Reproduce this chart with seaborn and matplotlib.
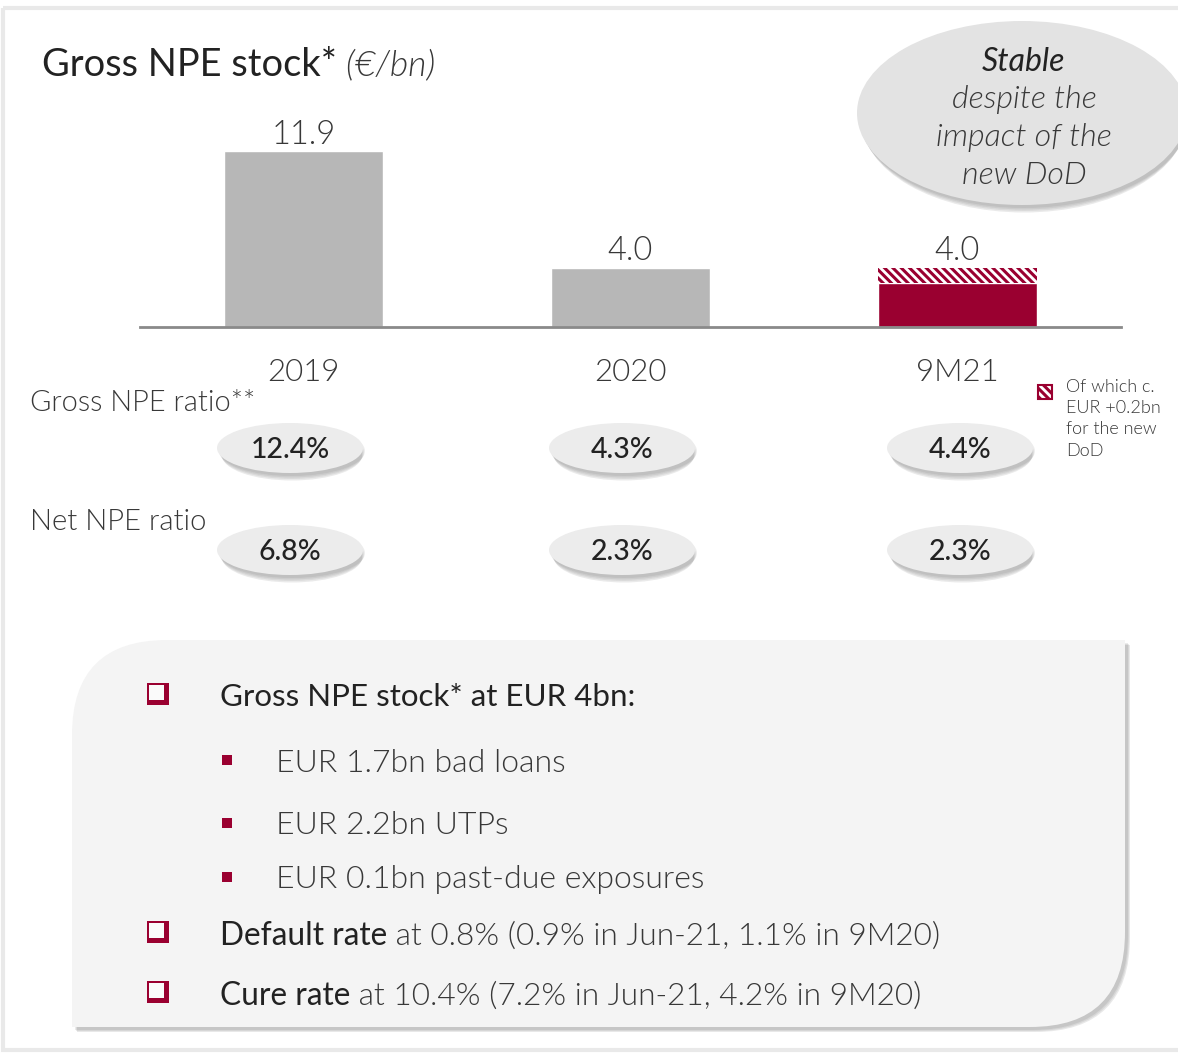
import os
import numpy as np
import pandas as pd
import matplotlib
matplotlib.use('Agg')
import matplotlib.pyplot as plt
import seaborn as sns
from matplotlib import font_manager
from matplotlib.font_manager import FontProperties
from matplotlib.patches import Ellipse, Rectangle, PathPatch
from matplotlib.path import Path

# ── Data ──────────────────────────────────────────────────────────────────────
periods = ['2019', '2020', '9M21']
npe_total = [11.9, 4.0, 4.0]
npe_solid = [11.9, 4.0, 2.95]       # part drawn solid
npe_dod = [0.0, 0.0, 1.05]          # hatched part (new DoD), as drawn
gross_ratio = ['12.4%', '4.3%', '4.4%']
net_ratio = ['6.8%', '2.3%', '2.3%']
legend_text = 'Of which c.\nEUR +0.2bn\nfor the new\nDoD'
callout_lines = ['Stable', 'despite the', 'impact of the', 'new DoD']
bullets = [
    ('box', 'Gross NPE stock* at EUR 4bn:', ''),
    ('dot', '', 'EUR 1.7bn bad loans'),
    ('dot', '', 'EUR 2.2bn UTPs'),
    ('dot', '', 'EUR 0.1bn past-due exposures'),
    ('box', 'Default rate', ' at 0.8% (0.9% in Jun-21, 1.1% in 9M20)'),
    ('box', 'Cure rate', ' at 10.4% (7.2% in Jun-21, 4.2% in 9M20)'),
]

# ── Style ─────────────────────────────────────────────────────────────────────
sns.set_style('white')
plt.rcParams['font.family'] = ['Lato', 'DejaVu Sans']
plt.rcParams['hatch.linewidth'] = 2.2

CRIMSON = '#9a0030'
BAR_GREY = '#b7b7b7'
DARK = '#222222'
MID = '#383838'


# ── Light font files (Lato Light / Light Italic) ─────────────────────────────
def find_font(base):
    for f in font_manager.fontManager.ttflist:
        if os.path.splitext(os.path.basename(f.fname))[0].lower() == base.lower():
            return f.fname
    return None


LIGHT_FILE = find_font('Lato-Light')
LIGHT_IT_FILE = find_font('Lato-LightItalic')


def light_fp(size, italic=False):
    fn = LIGHT_IT_FILE if italic else LIGHT_FILE
    if fn:
        return FontProperties(fname=fn, size=size)
    return FontProperties(family='Lato', weight='light', style='italic' if italic else 'normal', size=size)


W, H = 1178, 1055
fig = plt.figure(figsize=(W / 100, H / 100), dpi=100)
fig.patch.set_facecolor('white')

# overlay in pixel coordinates for decorations and text
ov = fig.add_axes([0, 0, 1, 1], zorder=0)
ov.set_xlim(0, W)
ov.set_ylim(H, 0)
ov.axis('off')

# outer frame
ov.add_patch(Rectangle((3, 8), W + 20, 1042, fill=False, ec='#e9e9e9', lw=3))


def shadow_ellipse(cx, cy, w, h, face, z=1):
    for i, a in enumerate([0.10, 0.10, 0.10, 0.12]):
        ov.add_patch(Ellipse((cx + 2, cy + 3 + i * 1.5), w - i * 2, h, fc='#555555',
                             ec='none', alpha=a, zorder=z))
    ov.add_patch(Ellipse((cx, cy), w, h, fc=face, ec='none', zorder=z + 0.1))


def light_text(x, y, s, size, italic=False, **kw):
    kw.setdefault('color', MID)
    return ov.text(x, y, s, fontproperties=light_fp(size, italic), **kw)


# ── Title ─────────────────────────────────────────────────────────────────────
t = ov.text(42, 62, 'Gross NPE stock*', fontsize=27.4, color=DARK, va='center_baseline')
ov.annotate(' (€/bn)', xy=(1, 62), xycoords=(t, 'data'), color=MID,
            fontproperties=light_fp(25.6, True), va='center_baseline')

# ── Callout ───────────────────────────────────────────────────────────────────
shadow_ellipse(1022, 113, 330, 184, '#e3e3e3')
for i, line in enumerate(callout_lines):
    if i == 0:
        ov.text(1024, 62, line, fontsize=23, style='italic', color=DARK,
                ha='center', va='center', zorder=3)
    else:
        light_text(1024, 62 + i * 38, line, 23.2, italic=True,
                   ha='center', va='center', zorder=3)

# ── Bars ──────────────────────────────────────────────────────────────────────
ax = fig.add_axes([140 / W, 1 - 327 / H, 981 / W, 227 / H], zorder=2)
ax.patch.set_alpha(0)
df = pd.DataFrame({'period': periods, 'solid': npe_solid, 'dod': npe_dod, 'total': npe_total})
sns.barplot(data=df, x='period', y='solid', hue='period', palette=[BAR_GREY, BAR_GREY, CRIMSON],
            legend=False, width=0.486, saturation=1, ax=ax)
ax.bar(np.arange(len(periods)), df['dod'], bottom=df['solid'], width=0.486,
       facecolor='white', edgecolor=CRIMSON, hatch='\\\\\\\\', linewidth=0)
for i, v in enumerate(npe_total):
    ax.annotate(f'{v:.1f}', (i, v), xytext=(0, 1), textcoords='offset points',
                ha='center', va='bottom', fontproperties=light_fp(23.5), color=MID)
ax.set_xlim(-0.5, 2.5)
ax.set_ylim(0, 227 / 14.79)
ax.set_xlabel('')
ax.set_ylabel('')
ax.set_yticks([])
ax.tick_params(axis='x', length=0, pad=22, labelcolor=MID)
for lab in ax.get_xticklabels():
    lab.set_fontproperties(light_fp(22.5))
for s in ['top', 'left', 'right']:
    ax.spines[s].set_visible(False)
ax.spines['bottom'].set_color('#8a8a8a')
ax.spines['bottom'].set_linewidth(2)

# legend for hatched part
ov.add_patch(Rectangle((1038, 385), 14, 14, fc='white', ec=CRIMSON, hatch='\\\\\\\\', lw=1.5, zorder=3))
light_text(1066, 379, legend_text, 13, va='top', ha='left', linespacing=1.4)

# ── Ratio pills ───────────────────────────────────────────────────────────────
light_text(30, 403, 'Gross NPE ratio**', 20.9, va='center')
light_text(30, 522, 'Net NPE ratio', 21.1, va='center')
pill_x = [290, 622, 960]
for row_y, vals in [(448, gross_ratio), (550, net_ratio)]:
    for x, v in zip(pill_x, vals):
        shadow_ellipse(x, row_y, 146, 50, '#ececec')
        ov.text(x, row_y + 2, v, fontsize=20.5, fontweight='medium', color=DARK,
                ha='center', va='center', zorder=3)

# ── Bottom panel ──────────────────────────────────────────────────────────────
def panel_path(x0, y0, x1, y1, r):
    verts = [(x0 + r, y0), (x1, y0), (x1, y1 - r), (x1, y1), (x1 - r, y1),
             (x0, y1), (x0, y0 + r), (x0, y0), (x0 + r, y0)]
    codes = [Path.MOVETO, Path.LINETO, Path.LINETO, Path.CURVE3, Path.CURVE3,
             Path.LINETO, Path.LINETO, Path.CURVE3, Path.CURVE3]
    return Path(verts, codes)


for i, a in enumerate([0.10, 0.10, 0.12]):
    ov.add_patch(PathPatch(panel_path(72 + 3 + i, 640 + 3 + i, 1125 + 3 + i, 1027 + 3 + i, 95),
                           fc='#444444', ec='none', alpha=a, zorder=1))
ov.add_patch(PathPatch(panel_path(72, 640, 1125, 1027, 95), fc='#f4f4f4', ec='none', zorder=1.2))

line_y = [695, 760, 823, 877, 933, 993]
for (kind, strong, light), y in zip(bullets, line_y):
    if kind == 'box':
        ov.add_patch(Rectangle((147, y - 12), 22, 22, fc=CRIMSON, ec='none', zorder=3))
        ov.add_patch(Rectangle((149, y - 10), 15, 15, fc='#fafafa', ec='none', zorder=3.1))
        size = 22.5 if not light else 22.8
        t = ov.text(220, y, strong, fontsize=size, color=DARK, va='center_baseline', zorder=3)
        if light:
            ov.annotate(light, xy=(1, y), xycoords=(t, 'data'), fontproperties=light_fp(22.8),
                        color=MID, va='center_baseline', zorder=3)
    else:
        ov.add_patch(Rectangle((222, y - 5), 10, 10, fc=CRIMSON, ec='none', zorder=3))
        light_text(276, y, light, 23, va='center_baseline', zorder=3)

fig.savefig('out.png', dpi=100)
